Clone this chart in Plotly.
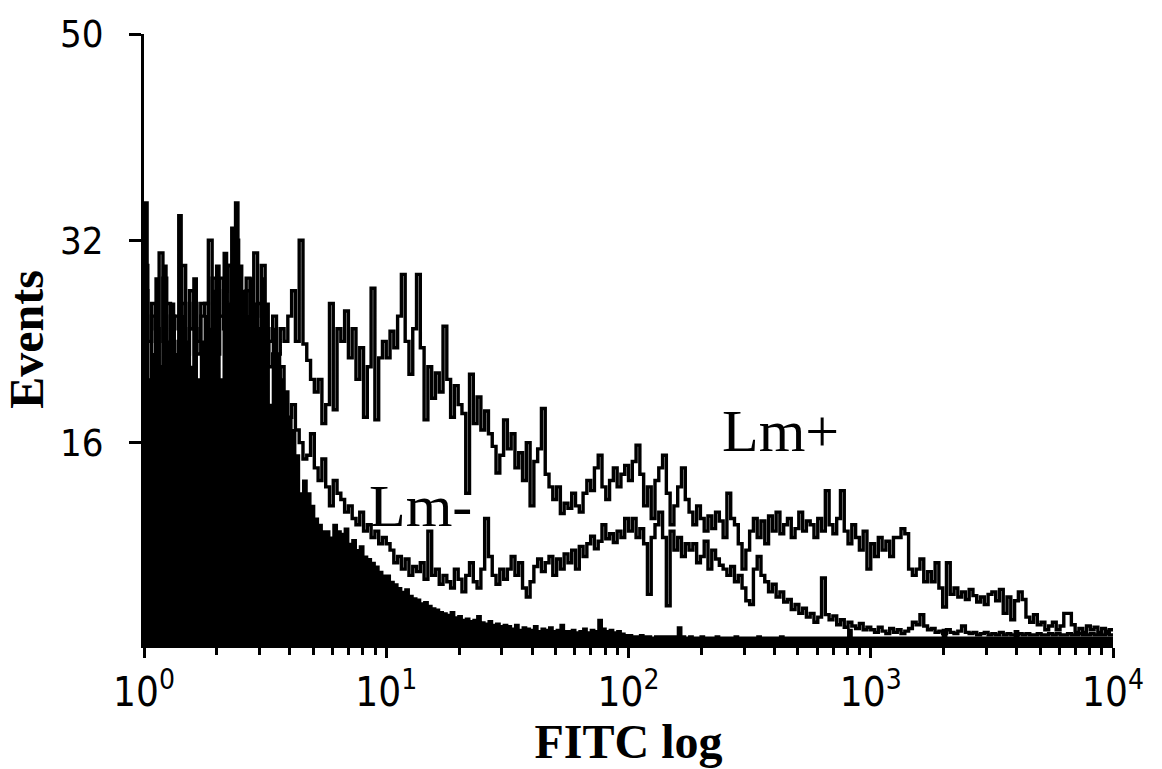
import numpy as np
import plotly.graph_objects as go

# 256 log-spaced channels spanning 10^0 .. 10^4 (64 channels per decade)
n_channels = 256
channels_per_decade = 64

# Control (filled black histogram)
ctrl = [
    35, 21, 23, 29, 22, 30, 24, 27, 23, 34, 26, 24, 22, 29, 21, 24,
    26, 25, 28, 30, 21, 31, 27, 33, 35, 30, 28, 26, 29, 27, 25, 29,
    27, 19, 25, 23, 21, 20, 18, 17, 15, 12, 13, 12, 11, 10, 9.5, 9,
    9, 8.5, 9.5, 9, 8.8, 9.2, 8, 8.3, 7.5, 7.8, 7, 6.8, 6.5, 6.2, 5.8, 5.5,
    5.5, 5, 4.8, 4.5, 4.2, 4.4, 3.9, 3.7, 3.6, 3.3, 3.4, 3.1, 2.9, 2.8, 2.6, 2.5,
    2.4, 2.6, 2.2, 2.3, 2.0, 2.1, 1.9, 2.0, 2.3, 1.8, 1.7, 1.9, 1.6, 1.7, 1.5, 1.6,
    1.5, 1.3, 1.6, 1.2, 1.4, 1.3, 1.2, 1.5, 1.1, 1.3, 1.2, 1.4, 1.1, 1.2, 1.6, 1.1,
    1.1, 1.2, 1.0, 1.1, 1.3, 1.0, 1.2, 1.1, 2.0, 1.3, 1.1, 1.2, 1.0, 1.1, 0.9, 0.8,
    0.8, 0.7, 0.7, 0.8, 0.7, 0.7, 0.6, 0.7, 0.7, 0.7, 0.7, 0.7, 0.7, 1.4, 0.7, 0.6,
    0.7, 0.6, 0.6, 0.7, 0.6, 0.6, 0.6, 0.7, 0.6, 0.6, 0.6, 0.6, 0.7, 0.6, 0.6, 0.6,
    0.6, 0.6, 0.7, 0.6, 0.6, 0.6, 0.6, 0.6, 0.7, 0.6, 0.6, 0.6, 0.6, 0.6, 0.6, 0.6,
    0.6, 0.6, 0.6, 0.6, 0.6, 0.6, 0.6, 0.6, 0.6, 0.6, 1.2, 0.6, 0.6, 0.6, 0.6, 0.6,
    0.6, 0.6, 0.6, 0.6, 0.6, 0.6, 0.6, 0.6, 0.6, 0.6, 0.6, 0.6, 0.6, 0.6, 0.6, 0.6,
    0.6, 0.6, 0.6, 1.2, 0.6, 0.6, 0.6, 0.6, 0.6, 0.6, 0.6, 0.6, 0.6, 0.6, 0.6, 0.6,
    0.6, 0.6, 0.6, 0.6, 0.6, 0.6, 1.1, 0.6, 0.6, 0.6, 0.6, 0.6, 0.6, 0.6, 0.6, 0.6,
    0.6, 0.6, 0.6, 0.6, 0.6, 0.6, 0.6, 0.6, 0.6, 0.6, 0.6, 0.6, 0.6, 0.6, 0.6, 0.6,
]

# Lm- (outline)
lm_minus = [
    30, 24, 26, 22, 31, 24, 27, 22, 26, 25, 30, 23, 25, 27, 24, 27,
    27, 32, 24, 26, 29, 25, 30, 26, 27, 24, 25, 28, 24, 26, 27, 25,
    24, 22, 23, 21, 22, 20, 18, 19, 17, 16, 14.7, 15, 16.7, 14, 13, 14.7,
    12.5, 11, 13, 12, 11.5, 10.5, 11, 10, 9.5, 10.5, 9, 9.5, 8.5, 9, 8, 8.5,
    8, 7.5, 6.5, 7, 6, 6.8, 5.5, 6.2, 5.8, 6.5, 5.2, 9, 5.5, 6, 4.8, 5.5,
    5, 4.5, 6, 5.2, 4.2, 5.5, 6.5, 5, 4.5, 6, 10, 7, 5.5, 4.8, 6, 5.2,
    6, 7, 5.5, 6.5, 4.5, 3.8, 5, 6.2, 6.8, 5.8, 6.5, 7, 5.5, 6.8, 6, 7.2,
    6.5, 7.5, 6, 7.8, 7, 8, 8.6, 7.6, 8.2, 9.5, 8.4, 8.8, 8.1, 9, 8.5, 10,
    9, 10, 8.5, 9.2, 8, 4, 8.5, 9.5, 10.5, 8.5, 3.1, 9, 7.5, 8.5, 7, 8,
    7.5, 8, 6.5, 7, 8.2, 6, 7.5, 6.8, 6.3, 6, 5.5, 6.2, 5, 5.5, 4.5, 3.5,
    3.2, 6, 7, 5.5, 5, 4.2, 4.8, 3.8, 4.2, 3.4, 3.6, 2.8, 3.2, 2.5, 2.9, 2.2,
    2.5, 1.8, 2.2, 5.3, 2.4, 2.0, 2.3, 1.6, 2.0, 1.4, 1.8, 1.5, 1.3, 1.7, 1.2, 1.4,
    1.2, 1.0, 1.4, 1.1, 0.9, 1.3, 1.0, 1.2, 0.9, 1.1, 1.3, 1.8, 1.6, 2.4, 1.5, 1.2,
    1.3, 1.0, 1.1, 0.9, 1.2, 1.0, 0.9, 1.1, 1.5, 1.0, 0.9, 1.0, 0.8, 0.9, 1.0, 0.8,
    0.9, 0.8, 1.0, 0.8, 0.9, 0.8, 0.8, 0.9, 0.8, 0.9, 0.8, 0.8, 0.9, 0.8, 0.8, 0.9,
    0.8, 0.9, 0.8, 0.8, 0.9, 0.8, 0.8, 0.9, 0.8, 0.8, 0.9, 0.8, 0.8, 0.8, 0.9, 0.8,
]

# Lm+ (outline)
lm_plus = [
    28, 20, 27, 25, 22, 29, 23, 26, 21, 24, 27, 22, 28, 25, 23, 26,
    27, 24, 29, 23, 26, 28, 30, 25, 32, 27, 24, 29, 26, 31, 25, 30,
    25, 24, 26, 23, 25, 24, 26, 28, 24, 32, 23.8, 22.5, 21, 20, 21, 17.5,
    19, 27, 18.6, 25, 24, 26.4, 22.7, 25, 21, 23.5, 18, 22, 28.2, 17.8, 22.7, 24,
    22.7, 24.8, 23.5, 26, 29.3, 24, 21.4, 25, 29.3, 23.5, 17.8, 22, 19.5, 21.5, 20, 25.2,
    21, 18, 20.5, 19, 18.3, 12, 21.4, 17.5, 19.6, 17, 18.5, 16.7, 15.7, 13.6, 15, 17.8,
    15.5, 16.7, 14, 15.2, 13, 16, 11, 14.5, 15.5, 18.7, 13.5, 12.5, 11.5, 12.5, 10.4, 11.2,
    10.8, 12, 11, 10.5, 12, 13, 12.2, 14, 15, 12.5, 11.5, 13, 14, 12.5, 13.5, 14.2,
    13, 14.5, 15.8, 13.5, 11, 12.5, 10, 13, 14, 15, 12, 9.5, 11, 12.5, 14, 11.5,
    10.5, 9.5, 11, 10, 9, 10.2, 9.2, 10.5, 9.8, 8.5, 12, 10, 9.5, 8, 6, 7.5,
    9, 10, 8.5, 9.8, 8, 10.2, 9, 10.5, 8.8, 9.5, 10, 8.5, 9.2, 10.5, 9, 9.8,
    9.5, 8.5, 10, 9, 12.2, 9.5, 8.8, 10, 12.2, 9, 8, 9.5, 8.5, 7.5, 9, 6,
    8, 7, 8.5, 7.5, 8.2, 7, 8.5, 8.5, 9.2, 8.8, 6, 5.5, 6.0, 6.8, 5.0, 5.8,
    5, 6.5, 4.5, 3, 6.5, 4, 4.5, 3.8, 4.2, 3.6, 4.4, 3.9, 3.4, 3.8, 3.2, 4,
    4.2, 3.5, 4.4, 2.5, 3.8, 2, 3.5, 4.2, 3.6, 2.2, 1.8, 2.4, 1.6, 1.8, 1.2, 1.5,
    1.8, 1.2, 1.5, 2.5, 2.5, 1.6, 1.0, 1.3, 1.0, 1.5, 1.2, 1.4, 1.0, 1.3, 1.1, 1.2,
]

x_tick_vals = [1, 10, 100, 1000, 10000]
x_tick_text = ["10<sup>0</sup>", "10<sup>1</sup>", "10<sup>2</sup>", "10<sup>3</sup>", "10<sup>4</sup>"]
x_minor_vals = [m * d for d in [1, 10, 100, 1000] for m in range(2, 10)]
y_top = 48.3
y_tick_vals = [16, 32, y_top]
y_tick_text = ["16", "32", "50"]

edges = 10 ** (np.arange(n_channels + 1) / channels_per_decade)


def step_y(vals):
    return list(vals) + [vals[-1]]


fig = go.Figure()
fig.add_trace(go.Scatter(
    x=edges, y=step_y(ctrl), mode="lines", line=dict(shape="hv", color="black", width=2),
    fill="tozeroy", fillcolor="black", name="control", showlegend=False, hoverinfo="skip"))
fig.add_trace(go.Scatter(
    x=edges, y=step_y(lm_minus), mode="lines", line=dict(shape="hv", color="black", width=3.4),
    name="Lm-", showlegend=False))
fig.add_trace(go.Scatter(
    x=edges, y=step_y(lm_plus), mode="lines", line=dict(shape="hv", color="black", width=3.4),
    name="Lm+", showlegend=False))

fig.add_annotation(x=np.log10(13.9), y=11.0, text="Lm-", showarrow=False,
                   font=dict(family="Liberation Serif", size=60, color="black"),
                   xanchor="center", yanchor="middle")
fig.add_annotation(x=np.log10(424), y=16.9, text="Lm+", showarrow=False,
                   font=dict(family="Liberation Serif", size=60, color="black"),
                   xanchor="center", yanchor="middle")

tick_font = dict(family="Liberation Sans Narrow, DejaVu Sans Condensed, Liberation Sans", size=40, color="black")

fig.update_layout(
    width=1162, height=769,
    margin=dict(l=140, r=49, t=30, b=119),
    paper_bgcolor="white", plot_bgcolor="white",
    showlegend=False,
    xaxis=dict(
        type="log", range=[0, 4],
        tickmode="array", tickvals=x_tick_vals, ticktext=x_tick_text,
        ticks="outside", ticklen=10, tickwidth=2.5, tickcolor="black",
        minor=dict(tickmode="array", tickvals=x_minor_vals, ticks="outside",
                   ticklen=7, tickwidth=2.5, tickcolor="black", showgrid=False),
        showline=True, linewidth=3, linecolor="black",
        showgrid=False, zeroline=False,
        tickfont=tick_font,
        title=dict(text="FITC log", standoff=8,
                   font=dict(family="Liberation Serif", size=48, color="black", weight="bold")),
    ),
    yaxis=dict(
        range=[0, y_top],
        tickmode="array", tickvals=y_tick_vals, ticktext=y_tick_text,
        ticks="outside", ticklen=12, tickwidth=3, tickcolor="black",
        showline=True, linewidth=3, linecolor="black",
        showgrid=False, zeroline=False,
        tickfont=dict(family="Liberation Sans Narrow, DejaVu Sans Condensed, Liberation Sans", size=38, color="black"),
        ticklabelstandoff=18,
        title=dict(text="Events", standoff=14,
                   font=dict(family="Liberation Serif", size=48, color="black", weight="bold")),
    ),
)

fig.write_html("out.html")
